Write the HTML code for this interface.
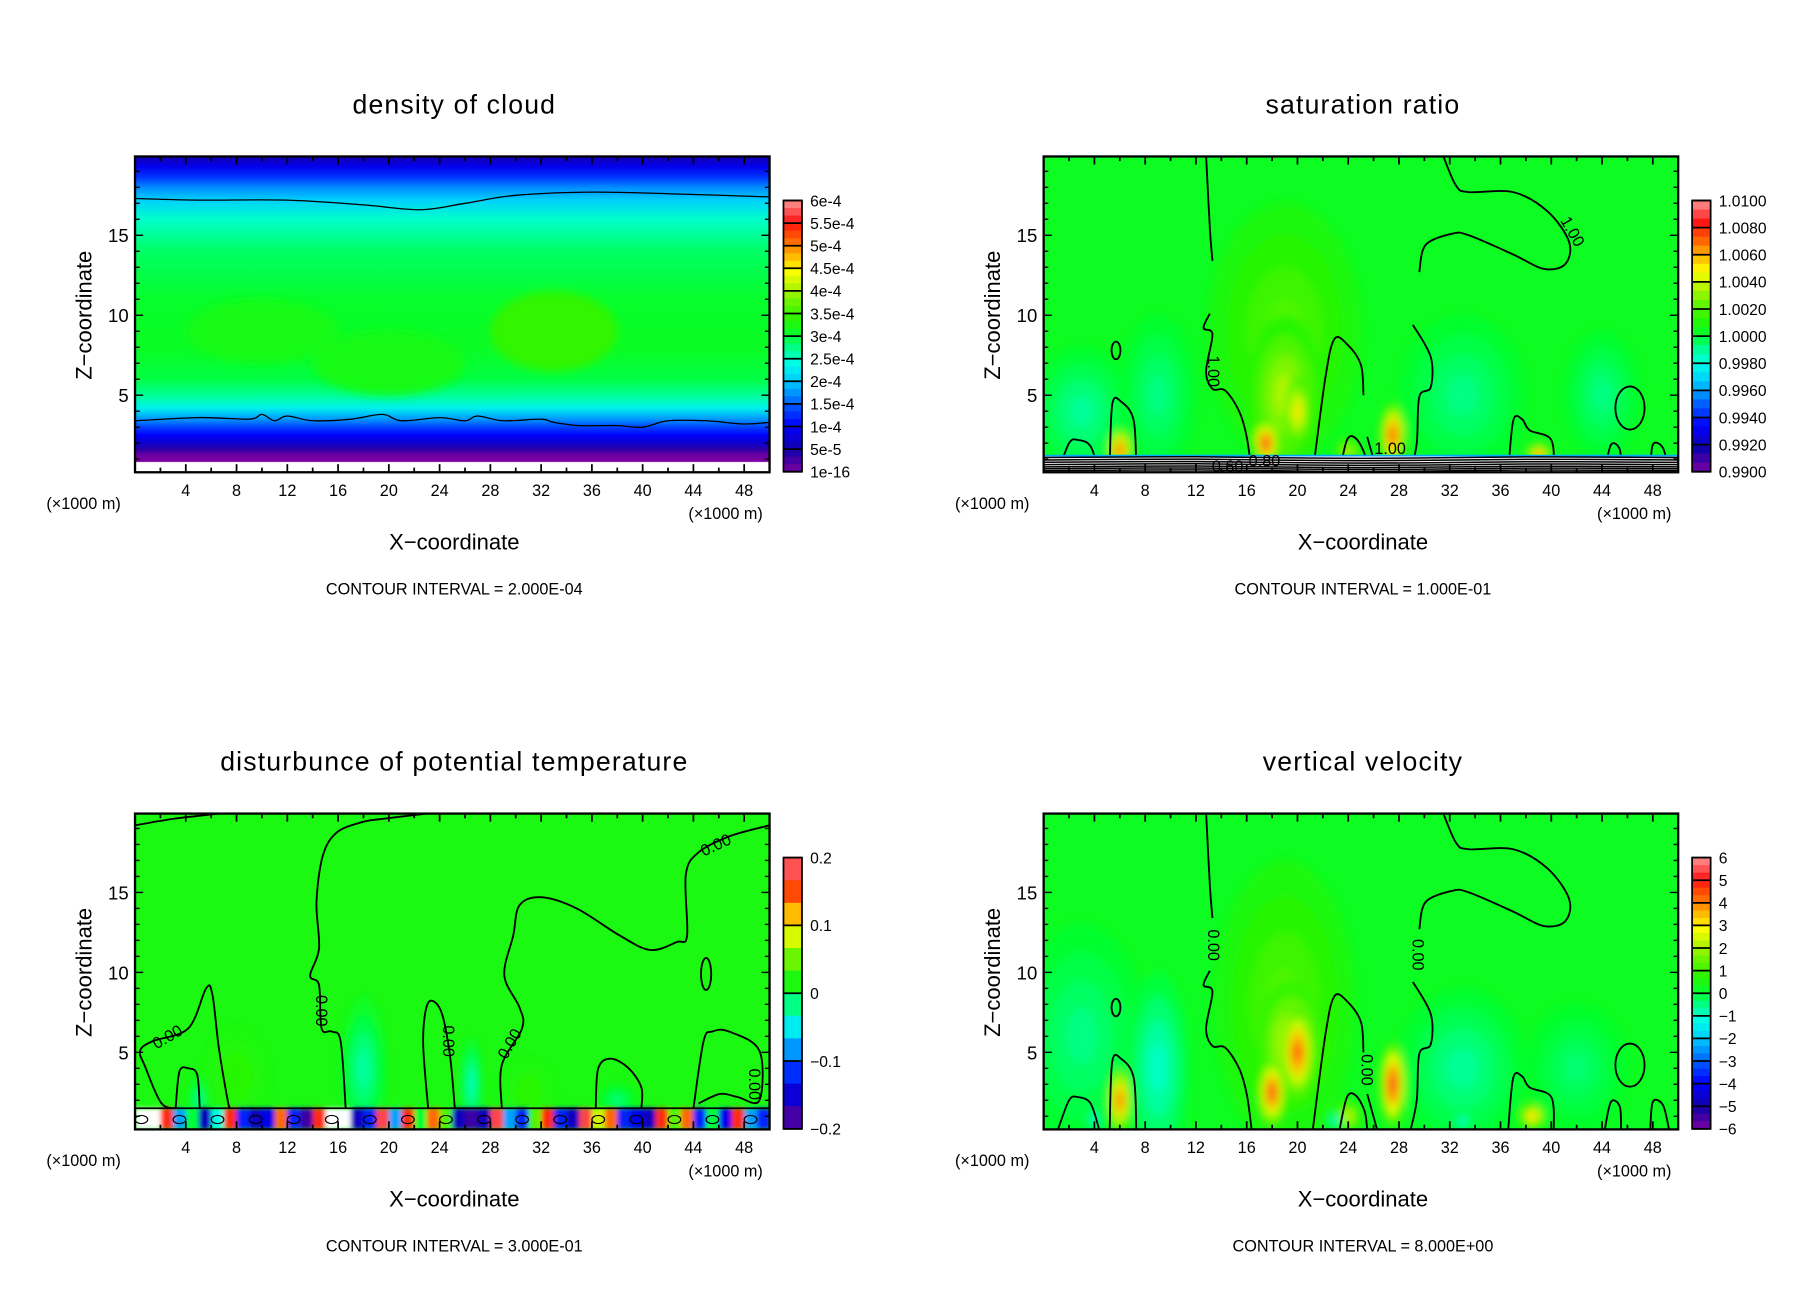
<!DOCTYPE html>
<html><head><meta charset="utf-8"><title>Cloud model fields</title>
<style>
html,body{margin:0;padding:0;background:#fff;}
svg{display:block;}
text{font-family:"Liberation Sans",sans-serif;fill:#000;}
</style></head>
<body>
<svg id="fig" xmlns="http://www.w3.org/2000/svg" width="1808" height="1308" viewBox="0 0 1560 1128.6">
<defs>
<filter id="soft" x="-50%" y="-50%" width="200%" height="200%"><feGaussianBlur stdDeviation="4"/></filter>
<filter id="soft2" x="-50%" y="-50%" width="200%" height="200%"><feGaussianBlur stdDeviation="2"/></filter>
</defs>
</svg>
<script>
// ---------- data ----------
const xTicks = [4,8,12,16,20,24,28,32,36,40,44,48];
const zTicks = [5,10,15];
const panelTitles = ["density of cloud","saturation ratio","disturbunce of potential temperature","vertical velocity"];
const intervals = ["CONTOUR INTERVAL = 2.000E-04","CONTOUR INTERVAL = 1.000E-01","CONTOUR INTERVAL = 3.000E-01","CONTOUR INTERVAL = 8.000E+00"];
const cbLabels0 = ["6e-4","5.5e-4","5e-4","4.5e-4","4e-4","3.5e-4","3e-4","2.5e-4","2e-4","1.5e-4","1e-4","5e-5","1e-16"];
const cbLabels1 = ["1.0100","1.0080","1.0060","1.0040","1.0020","1.0000","0.9980","0.9960","0.9940","0.9920","0.9900"];
const cbLabels2 = ["0.2","0.1","0","\u22120.1","\u22120.2"];
const cbLabels3 = ["6","5","4","3","2","1","0","\u22121","\u22122","\u22123","\u22124","\u22125","\u22126"];
// density profile (z km, value 1e-4 units; colormap spans 0..6)
const densZ = [19.93,19.3,18.6,18.0,17.2,16.0,14.0,11.0,8.0,6.0,5.0,4.2,3.5,3.0,2.5,2.0,1.6,1.3,1.0,0.85,0.8,0.1];
const densV = [0.5,0.9,1.3,1.7,2.05,2.5,2.85,3.05,3.1,2.95,2.7,2.3,1.75,1.35,1.0,0.7,0.35,0.1,0.0,0.0,-9,-9];
// blobs: [x km, z km, rx km, rz km, normalized value 0..1]
const blobsTL = [[33,9,5,2.5,0.57],[20,7,6,2,0.53],[10,9,6,2,0.53]];
const blobsTR = [[3,4,4,4,0.45],[9,5,3,5,0.46],[33,5,5,5,0.46],[44,5,3,4,0.46],[19,9,6,8,0.6],[19,5,3,5,0.68],[20,4,1,2.2,0.76],[17.5,2,1,1.4,0.92],[27.5,2.5,1,2,0.88],[6,1.6,0.9,1.3,0.87],[39,1.3,1,0.7,0.84],[24,1.5,1,0.8,0.68]];
const blobsBL = [[18,4,1.8,4.5,0.44],[26.5,3,0.8,3,0.42],[8,3.5,2.5,3,0.56],[31,2.5,2,2,0.56],[5,2,0.7,1.5,0.44],[38,2,1.5,1,0.46]];
const blobsBR = [[3,6,5,7,0.46],[9,4,2.5,6,0.42],[33,4,5,5,0.45],[42,4,4,4,0.47],[19,8,5.5,9,0.6],[19.5,5.5,2.6,4,0.72],[20,5,1.3,2.8,0.88],[18,2.5,1,2,0.92],[6,2,0.9,2,0.86],[27.5,3,1,2.6,0.92],[38.5,1,1,0.8,0.8],[24,1,1,1,0.7],[4,0.8,0.5,0.6,0.38],[23,0.7,0.5,0.5,0.38],[33,0.7,0.5,0.5,0.38]];
// bottom noisy strip of temperature disturbance (one value per km)
const stripBL = [1,1,.9,.3,.5,.1,.4,.9,.2,.1,.15,.85,.2,.05,.9,1,1,.1,.2,.95,.3,.9,.5,.85,.6,.1,.05,.1,.95,.3,.2,.6,.9,.2,.1,.95,.7,.85,.2,.15,.1,.9,.6,.85,.2,.5,.15,.9,.3,.2];
// contour lines [x km, z km]
const linesTL = [
 [[0,17.3],[5,17.2],[12,17.2],[18,16.9],[22.5,16.6],[26,17.0],[30,17.5],[36,17.7],[42,17.6],[50,17.4]],
 [[0,3.4],[5,3.6],[9,3.5],[10,3.8],[11,3.4],[12,3.7],[14,3.4],[17,3.5],[19.5,3.8],[21,3.4],[24,3.6],[26,3.4],[27,3.7],[29,3.4],[32,3.5],[33,3.3],[35,3.1],[38,3.1],[40,3.0],[42,3.4],[45,3.4],[48,3.2],[50,3.3]]
];
const linesV = [
 [[12.8,19.93],[13.1,15.4],[13.3,13.4]],
 [[13.1,10.1],[12.6,9.2],[13.3,8.8],[12.8,6.5],[13.3,5.4],[14.3,5.3],[15.4,4.0],[16.0,2.4],[16.4,0.1]],
 [[31.5,19.93],[32.5,18.1],[33.5,17.7],[37,17.7],[39.7,16.5],[41.4,14.6],[41.1,13.2],[39.4,12.9],[37,13.8],[33.5,15],[32.2,15.1],[30.1,14.4],[29.6,12.7]],
 [[29.1,9.4],[30.5,7.4],[30.5,5.5],[29.6,4.9],[29.4,2],[28.9,0.1]],
 [[21.2,0.1],[22.2,6.1],[22.9,8.5],[23.9,8.2],[25,6.9],[25.2,5.0]],
 [[25.5,2.4],[26.3,0.1]],
 [[5.2,0.1],[5.4,4.4],[6.1,4.6],[7.1,3.4],[7.3,0.1]],
 [[1.1,0.1],[2,2],[2.7,2.2],[3.7,1.8],[4.4,0.1]],
 [[23.3,0.1],[23.9,2.2],[24.6,2.3],[25.3,1.3],[25.5,0.1]],
 [[36.6,0.1],[37,3.4],[37.7,3.5],[38.3,2.8],[40,2.2],[40.2,0.1]],
 [[44.2,0.1],[44.7,1.9],[45.4,1.6],[45.5,0.1]],
 [[47.8,0.1],[48,1.9],[48.8,1.7],[49.3,0.1]]
];
const ellipsesV = [[46.2,4.2,1.15,1.35],[5.7,7.8,0.35,0.55]];
const linesBL = [
 [[0,19.2],[3,19.6],[6.6,19.93]],
 [[23,19.93],[19.5,19.6],[17.9,19.4],[15.9,18.75],[14.8,17.3],[14.3,14.4],[14.5,11.5],[13.8,9.8],[14.5,9.2],[14.7,6.5],[15.5,6.3],[16.2,5.7],[16.6,1.5]],
 [[50,19.2],[46.8,18.5],[44.4,17.5],[43.4,16.1],[43.5,12.3],[42.7,11.9],[40.6,11.4],[38.2,12.3],[34.8,14],[32,14.7],[30.3,14.2],[29.8,12.3],[29.1,9.8],[30.3,7.8],[30.5,6.5],[28.9,4.2],[28.9,1.5]],
 [[23.1,1.5],[22.7,5.7],[23.1,8.1],[24.1,7.6],[24.8,4.9],[25.2,1.5]],
 [[7.5,1.5],[7.3,2],[6.6,5.3],[6.1,8.6],[5.6,9],[4.2,6.5],[1.4,5.7],[0.4,5.1],[0.8,4.1],[2.1,1.8],[3.5,1.5]],
 [[3.2,1.5],[3.5,3.8],[4.2,4.0],[4.9,3.6],[5.1,1.5]],
 [[36.3,1.5],[36.5,4.0],[37.5,4.6],[38.9,4.0],[39.9,2.8],[39.9,1.5]],
 [[44,1.5],[44.8,5.7],[45.5,6.3],[46.8,6.3],[49.2,5.1],[49.2,2],[47.5,2.2],[46.1,2.4],[44.4,1.8]]
];
const ellipsesBL = [[45,9.9,0.4,1.0]];
const labelsTR = [[13.3,6.5,90,"1.00"],[41.6,15.2,60,"1.00"],[27.3,1.6,0,"1.00"],[14.5,0.45,0,"0.60"],[17.4,0.8,0,"0.80"]];
const labelsBL = [[2.6,5.9,-30,"0.00"],[14.6,7.6,90,"0.00"],[24.6,5.7,90,"0.00"],[29.6,5.5,-60,"0.00"],[45.8,17.9,-25,"0.00"],[48.7,3.0,90,"0.00"]];
const labelsBR = [[13.3,11.7,90,"0.00"],[29.4,11.1,90,"0.00"],[25.4,3.9,90,"0.00"]];

// ---------- helpers ----------
const NS = "http://www.w3.org/2000/svg";
const svg = document.getElementById('fig');
const PL = 116.5, PR = 664, PT = 135, PB = 407.5, XMAX = 50, ZMIN = 0.18, ZMAX = 19.93;
const CBX = 676, CBW = 16, CBT = 173, CBB = 407, CBLX = 699;
const stops = [[0,[122,0,160]],[0.08,[20,0,170]],[0.17,[0,0,255]],[0.25,[0,96,255]],[0.33,[0,200,255]],[0.4,[0,255,230]],[0.45,[0,255,150]],[0.5,[0,255,50]],[0.56,[40,245,0]],[0.62,[100,245,0]],[0.68,[180,245,0]],[0.74,[255,255,0]],[0.8,[255,176,0]],[0.86,[255,90,0]],[0.92,[255,20,20]],[1,[255,150,150]]];
function cmap(v){
  v=Math.max(0,Math.min(1,v));
  for(let i=1;i<stops.length;i++){ if(v<=stops[i][0]){ const a=stops[i-1],b=stops[i],t=(v-a[0])/(b[0]-a[0]);
    return 'rgb('+a[1].map((c,k)=>Math.round(c+(b[1][k]-c)*t)).join(',')+')'; } }
  return 'rgb(255,150,150)';
}
function mk(tag, attrs, parent){ const e=document.createElementNS(NS,tag); for(const k in attrs) e.setAttribute(k,attrs[k]); (parent||svg).appendChild(e); return e; }
function smooth(pts){
  let d='M'+pts[0][0].toFixed(1)+','+pts[0][1].toFixed(1);
  for(let i=0;i<pts.length-1;i++){
    const p0=pts[i-1]||pts[i], p1=pts[i], p2=pts[i+1], p3=pts[i+2]||p2;
    const c1=[p1[0]+(p2[0]-p0[0])/6,p1[1]+(p2[1]-p0[1])/6], c2=[p2[0]-(p3[0]-p1[0])/6,p2[1]-(p3[1]-p1[1])/6];
    d+=' C'+c1.join(',')+' '+c2.join(',')+' '+p2.join(',');
  }
  return d;
}

function panel(idx, ox, oy, cfg){
  const X = x => ox + PL + (x/XMAX)*(PR-PL);
  const Y = z => oy + PB - (z-ZMIN)/(ZMAX-ZMIN)*(PB-PT);
  const g = mk('g',{});
  
  
  const clipId='clip'+idx;
  const cp=mk('clipPath',{id:clipId},svg.querySelector('defs')); mk('rect',{x:ox+PL,y:oy+PT,width:PR-PL,height:PB-PT},cp);
  const field = mk('g',{'clip-path':'url(#'+clipId+')'},g);
  
  
  cfg.fill(field,X,Y);
  (cfg.lines||[]).forEach(l=>{
    const p=mk('path',{d:smooth(l.map(q=>[X(q[0]),Y(q[1])])),fill:'none',stroke:'#000','stroke-width':cfg.lw||1.6},field);
    
    
  });
  (cfg.ells||[]).forEach(e=>{
    const el=mk('ellipse',{cx:X(e[0]),cy:Y(e[1]),rx:e[2]/XMAX*(PR-PL),ry:e[3]/(ZMAX-ZMIN)*(PB-PT),fill:'none',stroke:'#000','stroke-width':1.6},field);
    
    
  });
  if(cfg.post) cfg.post(field,X,Y);
  (cfg.labels||[]).forEach(l=>{
    const t=mk('text',{x:X(l[0]),y:Y(l[1]),'font-size':14,'text-anchor':'middle','dominant-baseline':'middle',transform:'rotate('+l[2]+' '+X(l[0])+' '+Y(l[1])+')'},field);
    t.textContent=l[3];
    
    
  });
  const fr=mk('rect',{x:ox+PL,y:oy+PT,width:PR-PL,height:PB-PT,fill:'none',stroke:'#000','stroke-width':2},g);
  
  
  for(let x=2;x<XMAX;x+=2){
    const L = x%4===0?7:4;
    mk('line',{x1:X(x),x2:X(x),y1:oy+PB,y2:oy+PB-L,stroke:'#000','stroke-width':1.5},g);
    mk('line',{x1:X(x),x2:X(x),y1:oy+PT,y2:oy+PT+L,stroke:'#000','stroke-width':1.5},g);
  }
  for(let z=1;z<=19;z++){
    const L = z%5===0?7:4;
    mk('line',{x1:ox+PL,x2:ox+PL+L,y1:Y(z),y2:Y(z),stroke:'#000','stroke-width':1.2},g);
    mk('line',{x1:ox+PR,x2:ox+PR-L,y1:Y(z),y2:Y(z),stroke:'#000','stroke-width':1.2},g);
  }
  xTicks.forEach(v=>{ const t=mk('text',{x:X(v),y:oy+428,'font-size':14,'text-anchor':'middle'},g); t.textContent=v;
      });
  zTicks.forEach(v=>{ const t=mk('text',{x:ox+111,y:Y(v)+6,'font-size':16,'text-anchor':'end'},g); t.textContent=v;
      });
  let t=mk('text',{x:ox+392,y:oy+98,'font-size':23,'text-anchor':'middle','letter-spacing':'1'},g); t.textContent=panelTitles[idx];
   
  t=mk('text',{x:ox+392,y:oy+474,'font-size':19,'text-anchor':'middle'},g); t.textContent='X\u2212coordinate';
   
  t=mk('text',{x:ox+79,y:oy+272,'font-size':19,'text-anchor':'middle',transform:'rotate(-90 '+(ox+79)+' '+(oy+272)+')'},g); t.textContent='Z\u2212coordinate';
   
  t=mk('text',{x:ox+40,y:oy+439,'font-size':14},g); t.textContent='(\u00d71000 m)';
   
  t=mk('text',{x:ox+594,y:oy+448,'font-size':14},g); t.textContent='(\u00d71000 m)';
   
  t=mk('text',{x:ox+392,y:oy+513,'font-size':14,'text-anchor':'middle'},g); t.textContent=intervals[idx];
   
  const cb=mk('g',{},g);
  
  
  const labs=cfg.cb, n=labs.length-1, top=oy+CBT, bot=oy+CBB, h=(bot-top)/n;
  const sub=3;
  for(let i=0;i<n;i++){ for(let s=0;s<sub;s++){
    const v = 1-(i+ (s+0.5)/sub)/n;
    mk('rect',{x:ox+CBX,y:top+i*h+s*h/sub,width:CBW,height:h/sub+0.5,fill:cmap(v)},cb);
  }}
  for(let i=0;i<=n;i++){
    mk('line',{x1:ox+CBX,x2:ox+CBX+CBW,y1:top+i*h,y2:top+i*h,stroke:'#000','stroke-width':1.5},cb);
    const tl=mk('text',{x:ox+CBLX,y:top+i*h+5,'font-size':13.5},cb); tl.textContent=labs[i];
     
  }
  mk('rect',{x:ox+CBX,y:top,width:CBW,height:bot-top,fill:'none',stroke:'#000','stroke-width':1.5},cb);
}

function blobs(field,X,Y,list,base){
  mk('rect',{x:X(0),y:Y(ZMAX),width:X(XMAX)-X(0),height:Y(ZMIN)-Y(ZMAX),fill:cmap(base)},field);
  const bg=mk('g',{filter:'url(#soft)'},field);
  list.forEach(b=>{
    const rx=b[2]/XMAX*(PR-PL), ry=b[3]/(ZMAX-ZMIN)*(PB-PT);
    const steps=4;
    for(let k=0;k<steps;k++){
      const f=1-k/steps, v=base+(b[4]-base)*((k+1)/steps);
      const e=mk('ellipse',{cx:X(b[0]),cy:Y(b[1]),rx:rx*f,ry:ry*f,fill:cmap(v)},bg);
      
      
    }
  });
}

// ---------- panels ----------
panel(0,0,0,{cb:cbLabels0,lw:1.1,lines:linesTL,fill:(field,X,Y)=>{
  const gid='gDens';
  const lg=mk('linearGradient',{id:gid,x1:0,y1:Y(ZMAX),x2:0,y2:Y(ZMIN),gradientUnits:'userSpaceOnUse'},svg.querySelector('defs'));
  densZ.forEach((z,i)=>{ mk('stop',{offset:Math.min(1,(Y(z)-Y(ZMAX))/(Y(ZMIN)-Y(ZMAX))).toFixed(4),'stop-color':densV[i]<0?'#fff':cmap(densV[i]/6)},lg); });
  mk('rect',{x:X(0),y:Y(ZMAX),width:X(XMAX)-X(0),height:Y(ZMIN)-Y(ZMAX),fill:'url(#'+gid+')'},field);
  const bg=mk('g',{filter:'url(#soft)'},field);
  blobsTL.forEach(b=>{ const e=mk('ellipse',{cx:X(b[0]),cy:Y(b[1]),rx:b[2]/XMAX*(PR-PL),ry:b[3]/(ZMAX-ZMIN)*(PB-PT),fill:cmap(b[4])},bg);
      });
}});
panel(1,784,0,{cb:cbLabels1,lines:linesV,ells:ellipsesV,labels:labelsTR,fill:(f,X,Y)=>blobs(f,X,Y,blobsTR,0.52),post:(field,X,Y)=>{
  const s=mk('rect',{x:X(0),y:Y(1.2),width:X(XMAX)-X(0),height:Y(ZMIN)-Y(1.2),fill:'#fff'},field);
   
  mk('line',{x1:X(0),x2:X(XMAX),y1:Y(1.22),y2:Y(1.22),stroke:'#0af','stroke-width':1.5},field);
  [1.1,0.95,0.8,0.66,0.52,0.4,0.28].forEach((z,i)=>{
    mk('path',{d:smooth([[X(0),Y(z)],[X(12),Y(z+0.05)],[X(25),Y(z-0.05)],[X(38),Y(z+0.04)],[X(50),Y(z)]]),fill:'none',stroke:'#000','stroke-width':1.3},field);
  });
}});
panel(2,0,567,{cb:cbLabels2,lines:linesBL,ells:ellipsesBL,labels:labelsBL,fill:(field,X,Y)=>{
  blobs(field,X,Y,blobsBL,0.54);
  const sg=mk('g',{filter:'url(#soft2)'},field);
  stripBL.forEach((v,i)=>{ const r=mk('rect',{x:X(i),y:Y(1.5),width:X(1)-X(0)+1,height:Y(ZMIN)-Y(1.5),fill:v>0.97?'#fff':cmap(v)},sg);
      });
},post:(field,X,Y)=>{
  stripBL.forEach((v,i)=>{ if(i%3===0) mk('ellipse',{cx:X(i+0.5),cy:Y(0.8),rx:X(0.5)-X(0),ry:3.5,fill:'none',stroke:'#000','stroke-width':1},field); });
  mk('line',{x1:X(0),x2:X(XMAX),y1:Y(1.5),y2:Y(1.5),stroke:'#000','stroke-width':1.5},field);
}});
panel(3,784,567,{cb:cbLabels3,lines:linesV,ells:ellipsesV,labels:labelsBR,fill:(f,X,Y)=>blobs(f,X,Y,blobsBR,0.52)});
</script>
</body></html>
